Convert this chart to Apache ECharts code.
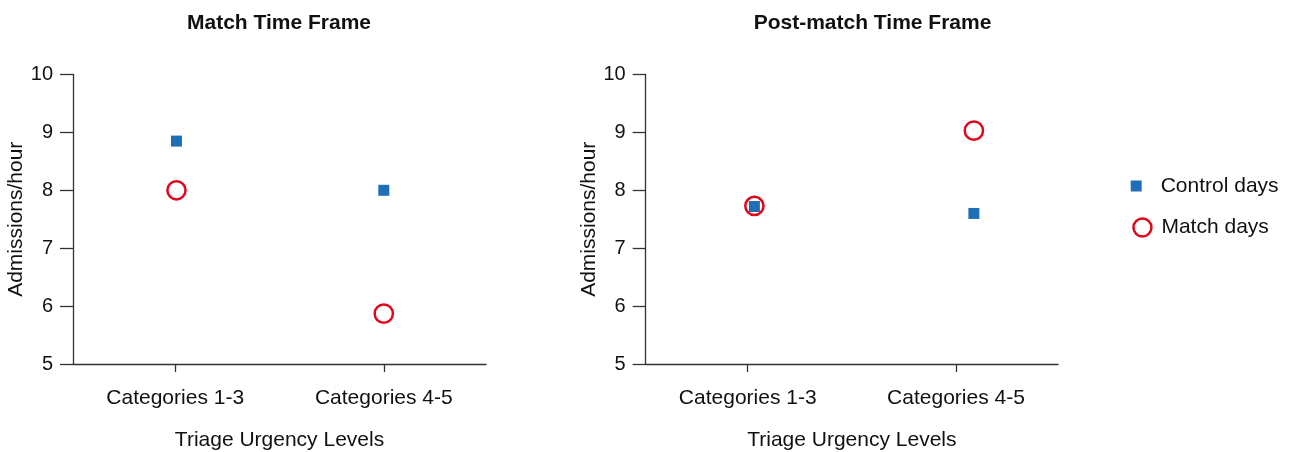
<!DOCTYPE html>
<html><head><meta charset="utf-8">
<script src="https://cdn.jsdelivr.net/npm/echarts@6/dist/echarts.min.js"></script>
<style>html,body{margin:0;padding:0;background:#fff}#c{width:1295px;height:452px}</style>
</head><body><div id="c"></div>
<script>
// ---- data ----
const categories = ['Categories 1-3', 'Categories 4-5'];
const categoryTicks = [1, 2];
const panelTitles = ['Match Time Frame', 'Post-match Time Frame'];
const seriesNames = ['Control days', 'Match days'];
const yTickValues = [5, 6, 7, 8, 9, 10];
// Match time frame panel
const matchControl = [8.85, 8.0];
const matchMatch = [8.0, 5.87];
const matchXPos = [1.006, 2.0];
// Post-match time frame panel
const postControl = [7.72, 7.6];
const postMatch = [7.73, 9.03];
const postXPos = [1.032, 2.086];

// ---- styling ----
const BLUE = '#1f6fb8';
const RED = '#e2061b';
const AXIS = '#333333';
const TXT = '#111111';
const FONT = 'Liberation Sans, Arial, sans-serif';

const grids = [
  {left: 73, top: 74.5, width: 413, height: 289.5, containLabel: false, outerBoundsMode: 'none'},
  {left: 645.7, top: 74.5, width: 412.3, height: 289.5, containLabel: false, outerBoundsMode: 'none'}
];

function xAxis(i) {
  return {
    gridIndex: i, type: 'value', min: 0.51, max: 2.49,
    splitLine: {show: false},
    axisLine: {show: true, onZero: false, lineStyle: {color: AXIS, width: 1.3}},
    axisTick: {show: true, customValues: categoryTicks, length: 8, lineStyle: {color: AXIS, width: 1.3}},
    axisLabel: {customValues: categoryTicks, formatter: v => categories[Math.round(v) - 1] || '',
      fontSize: 21, color: TXT, fontFamily: FONT, margin: 23.5},
    name: 'Triage Urgency Levels', nameLocation: 'middle', nameGap: 66,
    nameTextStyle: {fontSize: 21, color: TXT, fontFamily: FONT}
  };
}
function yAxis(i) {
  return {
    gridIndex: i, type: 'value', min: yTickValues[0], max: yTickValues[yTickValues.length - 1], interval: 1,
    splitLine: {show: false},
    axisLine: {show: true, lineStyle: {color: AXIS, width: 1.3}},
    axisTick: {show: true, length: 13, lineStyle: {color: AXIS, width: 1.3}},
    axisLabel: {fontSize: 20, color: TXT, fontFamily: FONT, margin: 20},
    name: 'Admissions/hour', nameLocation: 'middle', nameGap: 42,
    nameTextStyle: {fontSize: 21, color: TXT, fontFamily: FONT}
  };
}
const pairs = (xs, ys) => ys.map((y, k) => [xs[k], y]);
const controlStyle = {symbol: 'rect', symbolSize: 11, itemStyle: {color: BLUE, opacity: 1}};
const matchStyle = {symbol: 'circle', symbolSize: 18.2,
  itemStyle: {color: 'rgba(255,255,255,0)', borderColor: RED, borderWidth: 2.5, opacity: 1}};

const option = {
  backgroundColor: '#fff',
  animation: false,
  title: [
    {text: panelTitles[0], left: 279, top: 13, padding: 0, textAlign: 'center',
     textStyle: {fontSize: 21, fontWeight: 'bold', color: TXT, fontFamily: FONT}},
    {text: panelTitles[1], left: 872.5, top: 13, padding: 0, textAlign: 'center',
     textStyle: {fontSize: 21, fontWeight: 'bold', color: TXT, fontFamily: FONT}}
  ],
  legend: [
    {data: [seriesNames[0]], orient: 'vertical', left: 1130.7, top: 175.5, padding: 0,
     itemWidth: 11, itemHeight: 11, icon: 'rect',
     itemStyle: {color: BLUE, borderWidth: 0, opacity: 1},
     textStyle: {fontSize: 21, color: TXT, fontFamily: FONT, padding: [0, 0, 0, 14]}},
    {data: [seriesNames[1]], orient: 'vertical', left: 1132.2, top: 217, padding: 0,
     itemWidth: 18, itemHeight: 18, icon: 'circle',
     itemStyle: {color: 'rgba(255,255,255,0)', borderColor: RED, borderWidth: 2.5, opacity: 1},
     textStyle: {fontSize: 21, color: TXT, fontFamily: FONT, padding: [0, 0, 0, 5]}}
  ],
  grid: grids,
  xAxis: [xAxis(0), xAxis(1)],
  yAxis: [yAxis(0), yAxis(1)],
  series: [
    Object.assign({type: 'scatter', name: seriesNames[0], xAxisIndex: 0, yAxisIndex: 0, z: 3,
      data: pairs(matchXPos, matchControl)}, controlStyle),
    Object.assign({type: 'scatter', name: seriesNames[1], xAxisIndex: 0, yAxisIndex: 0, z: 2,
      data: pairs(matchXPos, matchMatch)}, matchStyle),
    Object.assign({type: 'scatter', name: seriesNames[0], xAxisIndex: 1, yAxisIndex: 1, z: 3,
      data: pairs(postXPos, postControl)}, controlStyle),
    Object.assign({type: 'scatter', name: seriesNames[1], xAxisIndex: 1, yAxisIndex: 1, z: 2,
      data: pairs(postXPos, postMatch)}, matchStyle)
  ]
};
const chart = echarts.init(document.getElementById('c'), null, {renderer: 'canvas'});
chart.setOption(option);
</script></body></html>
